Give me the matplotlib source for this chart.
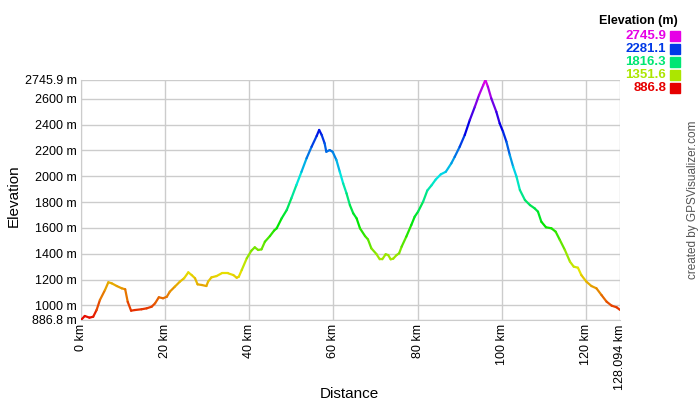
import numpy as np
import matplotlib
matplotlib.use("Agg")
import matplotlib.pyplot as plt
from matplotlib.collections import LineCollection
from matplotlib.colors import hsv_to_rgb

plt.rcParams['font.family'] = ['Liberation Sans', 'DejaVu Sans']

# distance (km) and elevation (m)
dist = [0.0, 0.9, 2.0, 2.9, 3.7, 4.5, 5.7, 6.5, 7.3, 8.5, 9.7, 10.5, 11.1, 11.9,
        12.8, 14.4, 15.6, 16.8, 17.6, 18.5, 19.5, 20.4, 21.1, 22.3, 23.5, 24.5,
        25.5, 26.3, 27.1, 27.7, 28.7, 29.8, 30.2, 31.0, 32.2, 33.4, 35.0, 36.2,
        37.0, 37.5, 38.2, 39.4, 40.5, 41.3, 42.1, 42.9, 43.7, 44.9, 45.9, 46.5,
        47.7, 48.9, 50.0, 51.2, 52.4, 53.6, 54.8, 56.0, 56.6, 57.2, 57.9, 58.3,
        59.1, 59.8, 60.7, 61.5, 62.3, 63.1, 63.9, 64.7, 65.5, 66.3, 67.5, 68.2,
        69.0, 70.2, 71.0, 71.6, 72.4, 73.0, 73.6, 74.2, 75.0, 75.6, 76.2, 77.3,
        78.5, 79.3, 80.1, 81.3, 82.3, 83.3, 84.3, 85.5, 86.7, 88.0, 88.8, 90.0,
        91.2, 92.4, 93.6, 94.6, 95.6, 96.1, 96.7, 97.5, 98.7, 99.5, 100.3, 101.1,
        101.9, 102.7, 103.5, 104.3, 105.5, 106.7, 107.8, 108.6, 109.4, 110.5,
        111.8, 112.8, 113.8, 115.0, 116.2, 117.1, 118.1, 118.9, 120.1, 121.3,
        122.5, 123.7, 124.9, 126.1, 127.3, 128.094]
elev = [887, 918, 905, 912, 964, 1042, 1119, 1179, 1171, 1150, 1132, 1125, 1028, 959,
        964, 970, 977, 990, 1016, 1063, 1055, 1067, 1106, 1145, 1184, 1210,
        1256, 1235, 1210, 1163, 1158, 1150, 1184, 1217, 1227, 1248, 1248, 1235,
        1214, 1222, 1274, 1365, 1424, 1450, 1429, 1434, 1493, 1537, 1580, 1597,
        1675, 1739, 1830, 1933, 2035, 2139, 2229, 2312, 2359, 2320, 2255, 2190,
        2203, 2190, 2126, 2035, 1945, 1868, 1777, 1713, 1674, 1597, 1537, 1511,
        1442, 1398, 1357, 1357, 1396, 1390, 1357, 1362, 1390, 1403, 1455, 1532,
        1623, 1687, 1726, 1803, 1890, 1930, 1975, 2015, 2035, 2100, 2150, 2229,
        2320, 2436, 2539, 2630, 2707, 2745.9, 2694, 2604, 2500, 2410, 2345, 2268,
        2165, 2074, 1997, 1894, 1816, 1777, 1752, 1726, 1648, 1605,
        1597, 1571, 1507, 1429, 1339, 1300, 1292, 1235, 1184, 1150,
        1132, 1080, 1029, 998, 985, 965]

ymin, ymax = 886.8, 2745.9
xmax = 128.094
y_ticks = [886.8, 1000, 1200, 1400, 1600, 1800, 2000, 2200, 2400, 2600, 2745.9]
x_ticks = [0, 20, 40, 60, 80, 100, 120, 128.094]
legend_values = [2745.9, 2281.1, 1816.3, 1351.6, 886.8]


def elev_color(v):
    f = (v - ymin) / (ymax - ymin)
    return hsv_to_rgb((f * 300 / 360, 1.0, 0.9))


fig = plt.figure(figsize=(7, 4), dpi=100)
ax = fig.add_axes([81 / 700, 0.2, 539 / 700, 0.6])

x = np.array(dist)
y = np.array(elev)
pts = np.column_stack([x, y]).reshape(-1, 1, 2)
segs = np.concatenate([pts[:-1], pts[1:]], axis=1)
cols = [elev_color((a + b) / 2) for a, b in zip(y[:-1], y[1:])]
ax.add_collection(LineCollection(segs, colors=cols, linewidths=1.6,
                                 capstyle='round', joinstyle='round', zorder=3))

ax.set_xlim(0, xmax)
ax.set_ylim(ymin, ymax)
ax.set_yticks(y_ticks)
ax.set_yticklabels(["%g m" % v for v in y_ticks], fontsize=9)
ax.set_xticks(x_ticks)
ax.set_xticklabels(["%g km" % v for v in x_ticks], rotation=90, fontsize=9)
ax.tick_params(length=0, pad=3)
ax.grid(color='#cccccc', linewidth=1)
ax.set_axisbelow(True)
for s in ['top', 'right']:
    ax.spines[s].set_visible(False)
for s in ['left', 'bottom']:
    ax.spines[s].set_color('#cccccc')
ax.set_xlabel('Distance', fontsize=11)
ax.set_ylabel('Elevation', fontsize=11)
ax.xaxis.set_label_coords(268 / 539, -0.28)
ax.yaxis.set_label_coords(-60 / 539, 0.52)

# colour key
fig.text(678 / 700, 1 - 21 / 400, 'Elevation (m)', ha='right', va='center',
         fontsize=9, fontweight='bold')
for i, v in enumerate(legend_values):
    yy = 1 - (36 + i * 13) / 400
    c = elev_color(v)
    fig.text(666 / 700, yy, "%.1f" % v, ha='right', va='center', fontsize=9.5,
             fontweight='bold', color=c)
    fig.patches.append(plt.Rectangle((670 / 700, yy - 5 / 400), 10 / 700, 10 / 400,
                                     transform=fig.transFigure, color=c))

fig.text(693 / 700, 1 - 200 / 400, 'created by GPSVisualizer.com', rotation=90,
         ha='center', va='center', fontsize=8.5, color='#555555')

fig.savefig('out.png', dpi=100)
